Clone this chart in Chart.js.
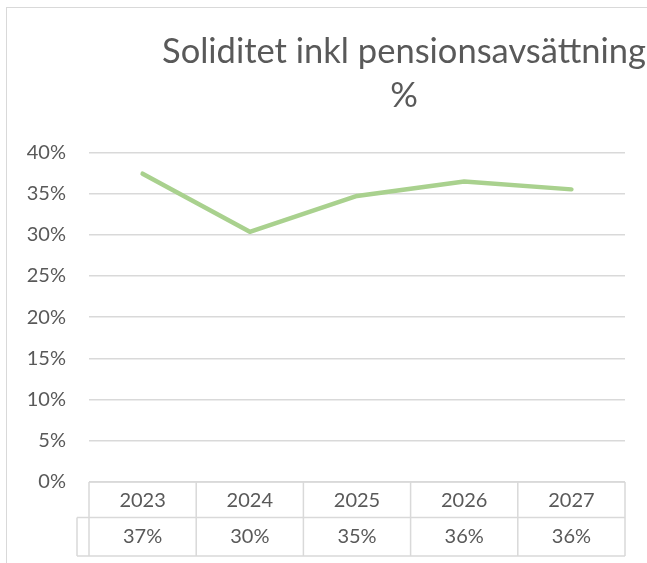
<!DOCTYPE html>
<html>
<head>
<meta charset="utf-8">
<script src="https://cdn.jsdelivr.net/npm/chart.js@4.4.1/dist/chart.umd.min.js"></script>
<style>
  html, body { margin: 0; padding: 0; background: #fff; overflow: hidden; }
  #ram { position: absolute; left: 6px; top: 7px; width: 900px; height: 700px; border: 1px solid #d9d9d9; }
  #graf { position: absolute; left: 0; top: 0; }
</style>
</head>
<body>
<div id="ram"></div>
<canvas id="graf" width="808" height="563"></canvas>
<script>
// ======== DATA ========
const ar = ["2023", "2024", "2025", "2026", "2027"];
const soliditet = [37.4, 30.35, 34.7, 36.45, 35.5];
const yTicks = [0, 5, 10, 15, 20, 25, 30, 35, 40];

const textFarg = "#595959";
const linjeFarg = "#d9d9d9";
const typsnitt = "Lato, 'Open Sans', sans-serif";

// tabellen under diagrammet (Excel "datatabell")
const datatabell = {
    id: "datatabell",
    afterDraw(chart) {
        const ctx = chart.ctx;
        const x = chart.scales.x;
        const area = chart.chartArea;
        const bredd = (area.right - area.left) / ar.length;
        const topp = area.bottom;
        const mitt = topp + 35.5;
        const botten = mitt + 38.5;
        const nyckel = area.left - 12;

        ctx.save();
        ctx.strokeStyle = linjeFarg;
        ctx.lineWidth = 1.5;
        ctx.beginPath();
        ctx.moveTo(area.left, topp); ctx.lineTo(area.right, topp);
        ctx.moveTo(nyckel, mitt); ctx.lineTo(area.right, mitt);
        ctx.moveTo(nyckel, botten); ctx.lineTo(area.right, botten);
        ctx.moveTo(nyckel, mitt); ctx.lineTo(nyckel, botten);
        for (let i = 0; i <= ar.length; i++) {
            const px = area.left + i * bredd;
            ctx.moveTo(px, topp); ctx.lineTo(px, botten);
        }
        ctx.stroke();

        ctx.fillStyle = textFarg;
        ctx.font = "20px " + typsnitt;
        ctx.textAlign = "center";
        ctx.textBaseline = "middle";
        ar.forEach(function(a, i) {
            const px = x.getPixelForValue(i);
            ctx.fillText(a, px, (topp + mitt) / 2 + 1);
            ctx.fillText(Math.round(soliditet[i]) + "%", px, (mitt + botten) / 2);
        });
        ctx.restore();
    }
};

new Chart(document.getElementById("graf"), {
    type: "line",
    data: {
        labels: ar,
        datasets: [{
            label: "Soliditet",
            data: soliditet,
            borderColor: "#a9d18e",
            borderWidth: 4.5,
            borderCapStyle: "round",
            borderJoinStyle: "round",
            pointRadius: 0,
            tension: 0,
            fill: false
        }]
    },
    options: {
        responsive: false,
        animation: false,
        layout: { padding: { left: 0, right: 0, top: 0, bottom: 81 } },
        plugins: {
            legend: { display: false },
            tooltip: { enabled: false },
            title: {
                display: true,
                text: ["Soliditet inkl pensionsavsättning", "%"],
                color: textFarg,
                font: { family: typsnitt, size: 34.5, weight: "normal", lineHeight: 1.275 },
                padding: { top: 30, bottom: 34.3 }
            }
        },
        scales: {
            x: {
                type: "category",
                display: false,
                offset: true
            },
            y: {
                position: "left",
                min: 0,
                max: 40,
                afterFit(s) { s.width = 89; },
                afterBuildTicks(s) { s.ticks = yTicks.map(v => ({ value: v })); },
                border: { display: false },
                grid: { color: linjeFarg, lineWidth: 1.5, drawTicks: false },
                ticks: {
                    color: textFarg,
                    padding: 23,
                    font: { family: typsnitt, size: 20 },
                    callback: v => v + "%"
                }
            },
            hoger: {
                type: "linear",
                position: "right",
                display: true,
                afterFit(s) { s.width = 183; },
                border: { display: false },
                grid: { display: false },
                ticks: { display: false }
            }
        }
    },
    plugins: [datatabell]
});
</script>
</body>
</html>
